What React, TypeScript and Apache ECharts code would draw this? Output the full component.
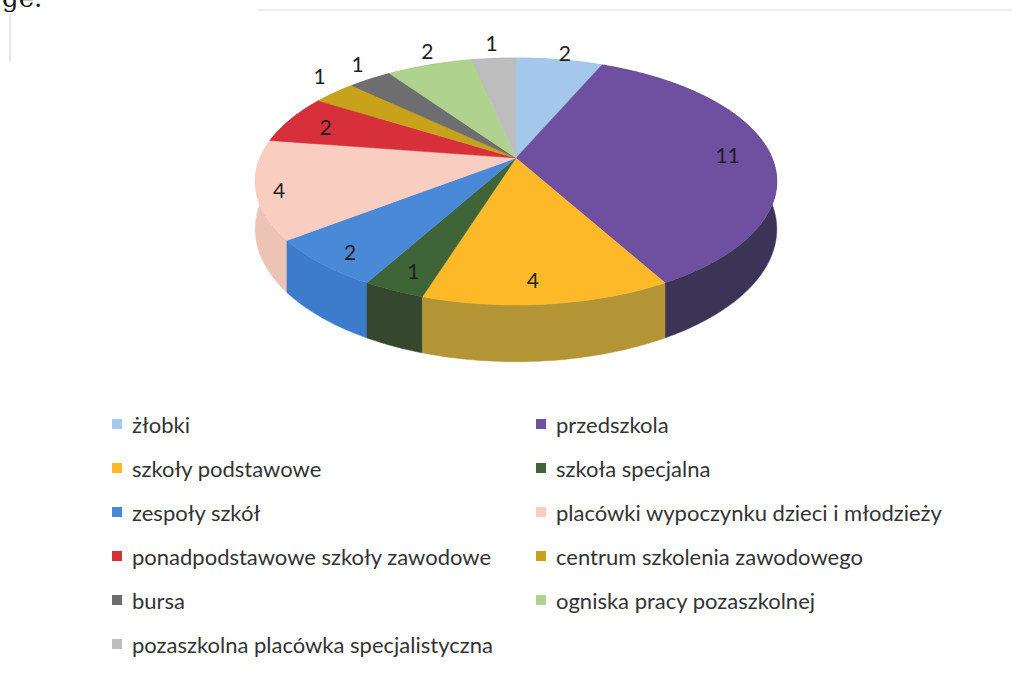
import React, { useEffect, useRef } from "react";
import * as echarts from "echarts";

const categories = [
  "żłobki",
  "przedszkola",
  "szkoły podstawowe",
  "szkoła specjalna",
  "zespoły szkół",
  "placówki wypoczynku dzieci i młodzieży",
  "ponadpodstawowe szkoły zawodowe",
  "centrum szkolenia zawodowego",
  "bursa",
  "ogniska pracy pozaszkolnej",
  "pozaszkolna placówka specjalistyczna",
];
const values = [2, 11, 4, 1, 2, 4, 2, 1, 1, 2, 1];

const topColors = [
  "#A4C8EC", "#6F4FA0", "#FDB927", "#3E6437", "#4A88D8", "#F9CDBF",
  "#D8303A", "#C9A21C", "#6E6E70", "#AFD28F", "#BDBDBD",
];
const sideColors = [
  "#8FB3D6", "#3C3456", "#B39535", "#35482F", "#3D7BCD", "#EDC3B6",
  "#A82830", "#9C7E18", "#555557", "#8FAE74", "#9E9E9E",
];
// label nudges (px) relative to the computed label anchor
const labelNudgeX = [0, -9, -10, 1, 0, -12, 7, 9, 6, 8, 0];
const labelNudgeY = [5, 2, -2, 0, 4, 4, 3, -9, -5, -3, -4];

// layout of projected pie
const CX = 516, CY = 158, B = 256, A = 119, P = 0.19, D = 46;

const total = values.reduce((s, v) => s + v, 0);
const starts: number[] = [];
values.reduce((acc, v, i) => { starts[i] = acc; return acc + v; }, 0);

function proj(phi: number, r: number, h: number): number[] {
  const X = Math.sin(phi), Z = -Math.cos(phi);
  const s = 1 / (1 - P * Z * r);
  return [CX + B * X * r * s, CY + A * Z * r * s + h * D * s];
}

function makeRenderItem(i: number) {
  return (params: any, api: any) => {
    const v = api.value(0);
    const a0 = (starts[i] / total) * Math.PI * 2;
    const a1 = a0 + (v / total) * Math.PI * 2;
    const n = Math.max(4, Math.ceil(((a1 - a0) * 180) / Math.PI));
    const topPts: number[][] = [[CX, CY]];
    const wallTop: number[][] = [];
    const wallBot: number[][] = [];
    for (let k = 0; k <= n; k++) {
      const a = a0 + ((a1 - a0) * k) / n;
      topPts.push(proj(a, 1, 0));
      wallTop.push(proj(a, 1, 0));
      wallBot.push(proj(a, 1, 1));
    }
    const wall = wallTop.concat(wallBot.reverse());
    const mid = (a0 + a1) / 2;
    const zMid = -Math.cos(mid);
    const outside = zMid < -0.5;
    const lp = proj(mid, outside ? 1.15 : 0.87, 0);
    return {
      type: "group",
      children: [
        {
          type: "polygon",
          z2: 10 + Math.round((zMid + 1) * 20),
          shape: { points: wall },
          style: { fill: sideColors[i], stroke: sideColors[i], lineWidth: 0.5 },
        },
        {
          type: "polygon",
          z2: 100,
          shape: { points: topPts },
          style: { fill: topColors[i], stroke: topColors[i], lineWidth: 0.5 },
        },
        {
          type: "text",
          z2: 200,
          x: lp[0] + labelNudgeX[i],
          y: lp[1] + labelNudgeY[i],
          style: {
            text: String(v),
            align: "center",
            verticalAlign: "middle",
            fontSize: 21,
            fontFamily: "Lato, 'Open Sans', sans-serif",
            fill: "#1e1e1e",
          },
        },
      ],
    };
  };
}

export default function App() {
  const ref = useRef<HTMLDivElement>(null);
  useEffect(() => {
    if (!ref.current) return;
    const chart = echarts.init(ref.current, null, { renderer: "svg" });
    const legendText = {
      fontSize: 22,
      fontFamily: "Lato, 'Open Sans', sans-serif",
      color: "#333333",
      lineHeight: 24,
      padding: [0, 0, 0, 5],
    };
    chart.setOption({
      animation: false,
      backgroundColor: "#ffffff",
      legend: [
        {
          data: categories.filter((_, i) => i % 2 === 0),
          orient: "vertical",
          left: 107,
          top: 407,
          itemWidth: 10,
          itemHeight: 10,
          itemGap: 20,
          icon: "rect",
          textStyle: legendText,
          selectedMode: false,
        },
        {
          data: categories.filter((_, i) => i % 2 === 1),
          orient: "vertical",
          left: 531,
          top: 407,
          itemWidth: 10,
          itemHeight: 10,
          itemGap: 20,
          icon: "rect",
          textStyle: legendText,
          selectedMode: false,
        },
      ],
      graphic: [
        {
          type: "text",
          left: 2,
          top: -15,
          style: { text: "ge.", fontSize: 26, fontFamily: "'DejaVu Serif', serif", fill: "#111" },
        },
        {
          type: "line",
          shape: { x1: 10, y1: 14, x2: 10, y2: 62 },
          style: { stroke: "#dcdcdc", lineWidth: 1.5 },
        },
        {
          type: "line",
          shape: { x1: 258, y1: 10, x2: 1012, y2: 10 },
          style: { stroke: "#ececec", lineWidth: 2 },
        },
      ],
      series: categories.map((name, i) => ({
        type: "custom",
        name,
        coordinateSystem: "none",
        color: topColors[i],
        itemStyle: { color: topColors[i] },
        data: [values[i]],
        renderItem: makeRenderItem(i),
      })),
    });
    return () => chart.dispose();
  }, []);
  return (
    <div
      ref={ref}
      style={{ position: "fixed", left: 0, top: 0, width: 1018, height: 676 }}
    />
  );
}
